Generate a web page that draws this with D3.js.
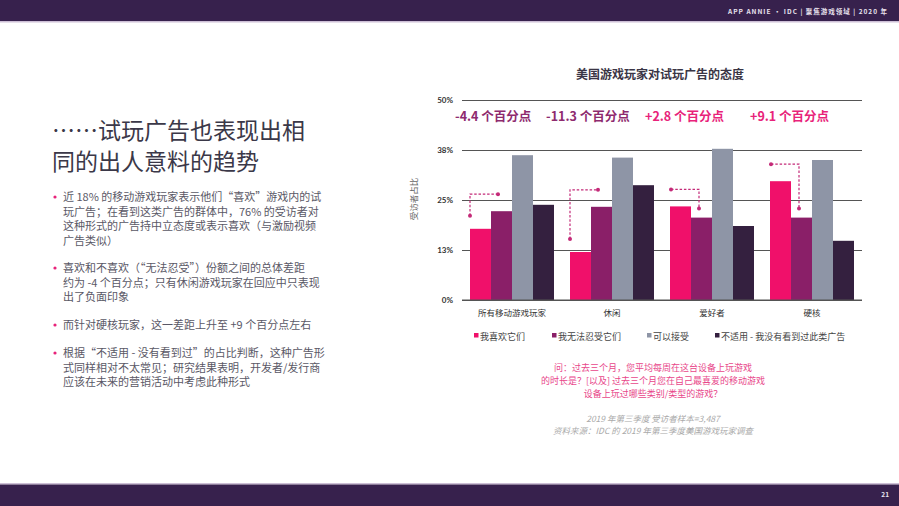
<!DOCTYPE html>
<html>
<head>
<meta charset="utf-8">
<script src="https://cdn.jsdelivr.net/npm/d3@7"></script>
<style>
body { margin: 0; background: #fff; }
svg { display: block; font-family: "Noto Sans CJK SC", "Noto Sans", sans-serif; }
</style>
</head>
<body>
<script>
// data
var categories = ["所有移动游戏玩家", "休闲", "爱好者", "硬核"];
var seriesNames = ["我喜欢它们", "我无法忍受它们", "可以接受", "不适用 - 我没有看到过此类广告"];
var likeIt = [17.8, 12.0, 23.4, 29.7];
var cantStand = [22.2, 23.3, 20.6, 20.6];
var acceptable = [36.2, 35.6, 37.8, 35.0];
var notApplicable = [23.8, 28.7, 18.5, 14.8];
var diffLabels = ["-4.4 个百分点", "-11.3 个百分点", "+2.8 个百分点", "+9.1 个百分点"];
var tickValues = [0, 12.5, 25, 37.5, 50];
var tickLabels = ["0%", "13%", "25%", "38%", "50%"];

var colors = ["#f0106a", "#8a1f68", "#8e95a6", "#34203f"];

var bullets = [
  ["近 18% 的移动游戏玩家表示他们“喜欢”游戏内的试", "玩广告；在看到这类广告的群体中，76% 的受访者对", "这种形式的广告持中立态度或表示喜欢（与激励视频", "广告类似）"],
  ["喜欢和不喜欢（“无法忍受”）份额之间的总体差距", "约为 -4 个百分点；只有休闲游戏玩家在回应中只表现", "出了负面印象"],
  ["而针对硬核玩家，这一差距上升至 +9 个百分点左右"],
  ["根据“不适用 - 没有看到过”的占比判断，这种广告形", "式同样相对不太常见；研究结果表明，开发者/发行商", "应该在未来的营销活动中考虑此种形式"]
];

var W = 899, H = 506;
var svg = d3.select("body").append("svg").attr("width", W).attr("height", H);

// header / footer bars
svg.append("rect").attr("x", 0).attr("y", 0).attr("width", W).attr("height", 21).attr("fill", "#37214d");
svg.append("rect").attr("x", 0).attr("y", 21).attr("width", W).attr("height", 1.5).attr("fill", "#cdbfd6");
svg.append("rect").attr("x", 0).attr("y", 483).attr("width", W).attr("height", 1.5).attr("fill", "#cdbfd6");
svg.append("rect").attr("x", 0).attr("y", 484.5).attr("width", W).attr("height", H - 484.5).attr("fill", "#37214d");

svg.append("text").attr("x", 888).attr("y", 14).attr("text-anchor", "end")
  .attr("fill", "#e8e2ee").style("font-size", "6.5px").style("font-weight", "bold").style("letter-spacing", "1px")
  .text("APP ANNIE • IDC  |  聚焦游戏领域  |  2020 年");
svg.append("text").attr("x", 889).attr("y", 497).attr("text-anchor", "end")
  .attr("fill", "#e8e2ee").style("font-size", "6.5px").style("font-weight", "bold").text("21");

// left side title and bullets
svg.append("text").attr("x", 52).attr("y", 139).attr("fill", "#3b3848").style("font-size", "23px").text("……试玩广告也表现出相");
svg.append("text").attr("x", 52).attr("y", 170).attr("fill", "#3b3848").style("font-size", "23px").text("同的出人意料的趋势");

var bulletTops = [197, 268, 325, 353];
bullets.forEach(function(lines, i) {
  svg.append("circle").attr("cx", 55).attr("cy", bulletTops[i]).attr("r", 1.6).attr("fill", "#e8237a");
  lines.forEach(function(line, j) {
    svg.append("text").attr("x", 63).attr("y", bulletTops[i] + j * 14.7 + 4)
      .attr("fill", "#5a5866").style("font-size", "11px").text(line);
  });
});

// chart
var x0 = 462, x1 = 862, yTop = 100, yBot = 300;
var x = d3.scaleBand().domain(categories).range([x0, x1]).paddingInner(0.16).paddingOuter(0.08);
var xs = d3.scaleBand().domain(d3.range(4)).range([0, x.bandwidth()]);
var y = d3.scaleLinear().domain([0, 50]).range([yBot, yTop]);

svg.append("text").attr("x", 660).attr("y", 79).attr("text-anchor", "middle")
  .attr("fill", "#3a3545").style("font-size", "12px").style("font-weight", "bold").text("美国游戏玩家对试玩广告的态度");

var yAxis = svg.append("g").attr("transform", "translate(" + x0 + ",0)")
  .call(d3.axisLeft(y).tickValues(tickValues).tickSize(-(x1 - x0)).tickPadding(9)
    .tickFormat(function(d, i) { return tickLabels[i]; }));
yAxis.select(".domain").remove();
yAxis.selectAll(".tick line").attr("stroke", "#555").attr("stroke-width", 1);
yAxis.selectAll(".tick text").attr("fill", "#333").style("font-size", "8px").style("font-weight", "bold")
  .style("font-family", "Lato, sans-serif");

svg.append("text").attr("transform", "translate(417,199) rotate(-90)").attr("text-anchor", "middle")
  .attr("fill", "#666").style("font-size", "8.5px").text("受访者占比");

var series = [likeIt, cantStand, acceptable, notApplicable];
var groups = svg.append("g").selectAll("g").data(categories).enter().append("g")
  .attr("transform", function(d) { return "translate(" + x(d) + ",0)"; });

groups.selectAll("rect").data(function(d, i) { return series.map(function(s, k) { return {k: k, v: s[i]}; }); })
  .enter().append("rect")
  .attr("x", function(d) { return xs(d.k); })
  .attr("width", xs.bandwidth())
  .attr("y", function(d) { return y(d.v); })
  .attr("height", function(d) { return y(0) - y(d.v); })
  .attr("fill", function(d) { return colors[d.k]; });

// bottom line over bars
svg.append("line").attr("x1", x0).attr("x2", x1).attr("y1", yBot).attr("y2", yBot).attr("stroke", "#555");

// category labels
var xAxis = svg.append("g").attr("transform", "translate(0," + yBot + ")")
  .call(d3.axisBottom(x).tickSize(0).tickPadding(10));
xAxis.select(".domain").remove();
xAxis.selectAll(".tick text").attr("fill", "#333").style("font-size", "8.5px")
  .style("font-family", "\"Noto Sans CJK SC\", sans-serif");

// difference labels
var labelColors = ["#8e2a6e", "#8e2a6e", "#e8237a", "#e8237a"];
var labelOffsets = [-15, -24, -25, -20];
categories.forEach(function(c, i) {
  svg.append("text").attr("x", x(c) + labelOffsets[i]).attr("y", 121)
    .attr("fill", labelColors[i]).style("font-size", "12.5px").style("font-weight", "bold").text(diffLabels[i]);
});

// dashed connectors
var dashColor = "#c42a78";
categories.forEach(function(c, i) {
  var bx = x(c);
  var pinkX = bx + xs(0), purX = bx + xs(1);
  var topY = y(Math.max(likeIt[i], cantStand[i])) - 17;
  var pts;
  if (likeIt[i] < cantStand[i]) {
    pts = [[pinkX, y(likeIt[i]) - 13], [pinkX, topY], [purX + 7, topY]];
  } else {
    pts = [[pinkX + 1, topY], [purX + 8, topY], [purX + 8, y(cantStand[i]) - 9]];
  }
  svg.append("path").attr("d", d3.line()(pts)).attr("fill", "none")
    .attr("stroke", dashColor).attr("stroke-width", 1.2).attr("stroke-dasharray", "2.5,1.8");
  [pts[0], pts[2]].forEach(function(p) {
    svg.append("circle").attr("cx", p[0]).attr("cy", p[1]).attr("r", 2).attr("fill", dashColor);
  });
});

// legend
var legendX = [474, 552, 647, 715];
seriesNames.forEach(function(n, i) {
  svg.append("rect").attr("x", legendX[i]).attr("y", 333).attr("width", 4.5).attr("height", 4.5).attr("fill", colors[i]);
  svg.append("text").attr("x", legendX[i] + 6).attr("y", 340).attr("fill", "#444").style("font-size", "9px").text(n);
});

// question and source
var qLines = ["问：过去三个月，您平均每周在这台设备上玩游戏", "的时长是？[以及] 过去三个月您在自己最喜爱的移动游戏", "设备上玩过哪些类别/类型的游戏？"];
qLines.forEach(function(l, i) {
  svg.append("text").attr("x", 653).attr("y", 371 + i * 13).attr("text-anchor", "middle")
    .attr("fill", "#e8468a").style("font-size", "9px").text(l);
});
var srcLines = ["2019 年第三季度 受访者样本=3,487", "资料来源：IDC 的 2019 年第三季度美国游戏玩家调查"];
srcLines.forEach(function(l, i) {
  svg.append("text").attr("x", 653).attr("y", 422 + i * 12).attr("text-anchor", "middle")
    .attr("fill", "#aaa").style("font-size", "8.5px").style("font-style", "italic").text(l);
});
</script>
</body>
</html>
